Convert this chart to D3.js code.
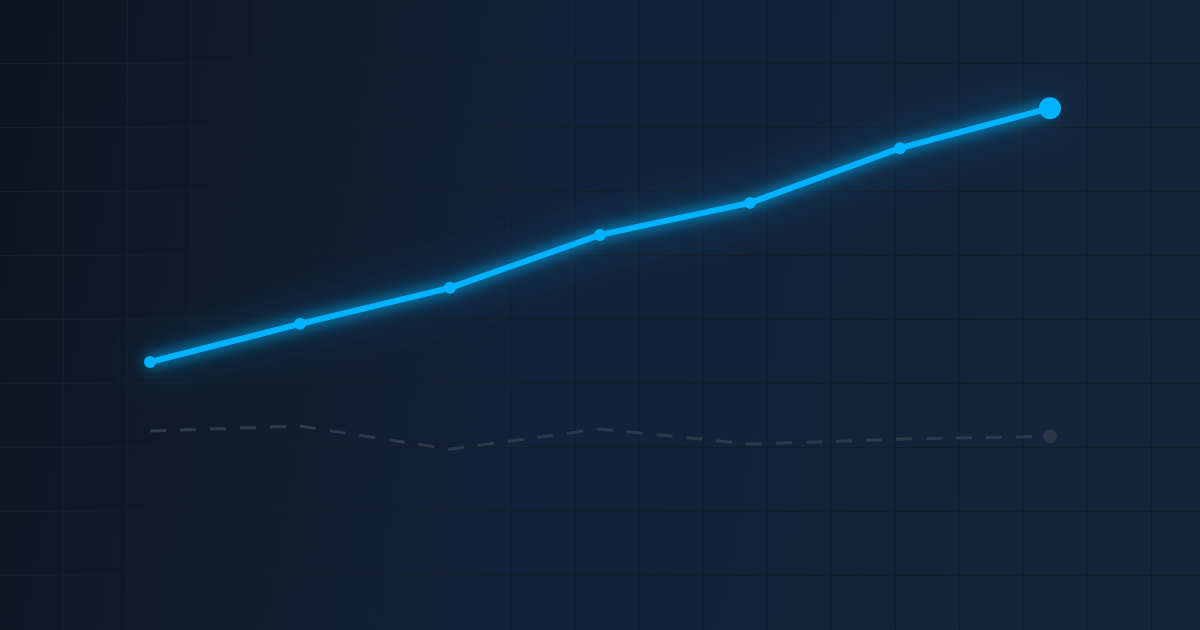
<!DOCTYPE html>
<html>
<head>
<meta charset="utf-8">
<script src="https://cdn.jsdelivr.net/npm/d3@7"></script>
<style>
  html, body { margin: 0; padding: 0; background: #0f1520; }
  svg { display: block; }
</style>
</head>
<body>
<script>
// Data
let steps = [0, 1, 2, 3, 4, 5, 6];
let mainValues = [30, 40.6, 50.6, 65.3, 74.2, 89.4, 100.5];
let baseValues = [10.8, 12.2, 5.8, 11.4, 7.2, 8.6, 9.3];

let width = 1200,
    height = 630;

let svg = d3.select('body').append('svg')
    .attr('width', width)
    .attr('height', height);

let defs = svg.append('defs');

// Background gradient, left to right
let bg = defs.append('linearGradient')
    .attr('id', 'bg')
    .attr('x1', '0%').attr('y1', '0%')
    .attr('x2', '100%').attr('y2', '10%');
bg.append('stop').attr('offset', '0%').attr('stop-color', '#0e1420');
bg.append('stop').attr('offset', '50%').attr('stop-color', '#12223a');
bg.append('stop').attr('offset', '100%').attr('stop-color', '#14243a');

let glow = defs.append('filter')
    .attr('id', 'glow')
    .attr('x', '-20%').attr('y', '-50%')
    .attr('width', '140%').attr('height', '200%');
glow.append('feGaussianBlur').attr('stdDeviation', 7);

let haze = defs.append('filter')
    .attr('id', 'haze')
    .attr('x', '-30%').attr('y', '-100%')
    .attr('width', '160%').attr('height', '300%');
haze.append('feGaussianBlur').attr('stdDeviation', 22);

svg.append('rect')
    .attr('width', width)
    .attr('height', height)
    .attr('fill', 'url(#bg)');

// Grid
let grid = svg.append('g');
d3.range(64, width, 64).forEach(x => {
    grid.append('line')
        .attr('x1', x - 0.5).attr('x2', x - 0.5)
        .attr('y1', 0).attr('y2', height)
        .attr('stroke', '#141d2a')
        .attr('stroke-width', 1);
});
d3.range(64, height, 64).forEach(y => {
    grid.append('line')
        .attr('x1', 0).attr('x2', width)
        .attr('y1', y - 0.5).attr('y2', y - 0.5)
        .attr('stroke', '#141d2a')
        .attr('stroke-width', 1);
});

// Scales
let x = d3.scaleLinear().domain([0, 6]).range([150, 1050]);
let y = d3.scaleLinear().domain([0, 100]).range([470, 110]);

let line = d3.line()
    .x((d, i) => x(steps[i]))
    .y(d => y(d));

// Baseline (dashed)
svg.append('path')
    .datum(baseValues)
    .attr('d', line)
    .attr('fill', 'none')
    .attr('stroke', '#2d3a4c')
    .attr('stroke-width', 3)
    .attr('stroke-dasharray', '16,14');

svg.append('circle')
    .attr('cx', x(steps[6]))
    .attr('cy', y(baseValues[6]))
    .attr('r', 7)
    .attr('fill', '#293648');

// Main line: haze, glow, line
svg.append('path')
    .datum(mainValues)
    .attr('d', line)
    .attr('fill', 'none')
    .attr('stroke', '#0b6fa6')
    .attr('stroke-opacity', 0.3)
    .attr('stroke-width', 26)
    .attr('stroke-linecap', 'round')
    .attr('filter', 'url(#haze)');

svg.append('path')
    .datum(mainValues)
    .attr('d', line)
    .attr('fill', 'none')
    .attr('stroke', '#00b4ff')
    .attr('stroke-opacity', 0.75)
    .attr('stroke-width', 10)
    .attr('stroke-linecap', 'round')
    .attr('filter', 'url(#glow)');

svg.append('path')
    .datum(mainValues)
    .attr('d', line)
    .attr('fill', 'none')
    .attr('stroke', '#00b2ff')
    .attr('stroke-width', 6)
    .attr('stroke-linejoin', 'round')
    .attr('stroke-linecap', 'round');

svg.selectAll('.pt')
    .data(mainValues)
    .enter().append('circle')
    .attr('class', 'pt')
    .attr('cx', (d, i) => x(steps[i]))
    .attr('cy', d => y(d))
    .attr('r', (d, i) => i === mainValues.length - 1 ? 11 : 6)
    .attr('fill', '#00b2ff');
</script>
</body>
</html>
